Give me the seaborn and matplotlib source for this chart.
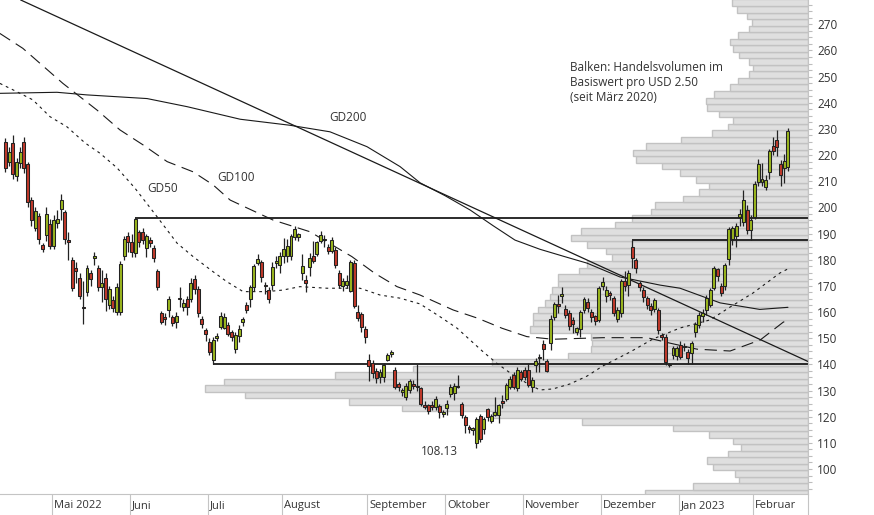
import matplotlib
matplotlib.use("Agg")
import matplotlib.pyplot as plt
from matplotlib.ticker import MultipleLocator
import numpy as np
import seaborn as sns

# Tageskerzen, Handelstag 0 = 12.04.2022 ... 211 = 14.02.2023
opens = [224.9, 217.2, 224.5, 212.0, 217.1, 224.9, 216.6, 202.8, 192.0, 196.7,
         185.6, 189.4, 193.5, 185.4, 193.9, 199.3, 198.1, 187.2, 179.9, 177.0,
         172.9, 161.8, 167.8, 174.8, 180.5, 176.7, 169.5, 172.9, 162.6, 164.6,
         160.0, 160.1, 181.5, 189.2, 186.7, 182.7, 190.5, 190.7, 184.6, 187.5,
         184.6, 175.7, 159.5, 158.0, 160.8, 158.0, 156.3, 165.2, 162.0, 165.0,
         164.9, 172.5, 168.7, 157.5, 153.1, 148.7, 141.7, 150.0, 154.4, 154.0,
         155.0, 152.2, 145.8, 150.9, 156.3, 162.7, 164.9, 169.5, 178.8, 179.0,
         170.0, 168.5, 170.2, 178.9, 178.1, 181.6, 181.3, 181.6, 188.7, 188.5,
         174.9, 172.4, 177.2, 181.3, 182.0, 187.0, 187.5, 184.9, 183.3, 183.9,
         174.9, 170.0, 170.2, 168.2, 178.8, 160.2, 159.2, 153.5, 141.7, 140.4,
         137.3, 135.3, 135.0, 141.7, 143.8, 137.9, 132.4, 129.6, 127.7, 130.2,
         132.0, 131.2, 130.8, 124.6, 124.3, 124.6, 123.8, 124.1, 121.0, 123.5,
         128.5, 128.9, 131.5, 124.8, 120.0, 115.5, 114.9, 109.8, 120.2, 115.1,
         122.8, 118.5, 120.6, 120.6, 125.5, 126.7, 131.5, 135.9, 130.8, 137.1,
         137.8, 138.0, 131.4, 139.7, 142.3, 147.7, 141.3, 148.0, 158.0, 162.5,
         166.3, 161.0, 159.5, 156.8, 152.5, 153.4, 160.8, 164.0, 160.2, 158.5,
         156.8, 169.8, 166.3, 166.8, 165.3, 157.4, 159.5, 171.7, 170.4, 185.0,
         179.7, 171.0, 168.5, 165.3, 162.4, 161.1, 160.8, 151.0, 150.6, 139.6,
         143.6, 143.2, 147.4, 146.5, 144.8, 144.5, 152.5, 155.0, 158.3, 160.8,
         162.7, 169.1, 176.4, 170.0, 170.1, 180.4, 188.0, 188.9, 196.4, 194.5,
         198.9, 191.5, 196.4, 209.8, 209.8, 207.9, 213.6, 223.5, 225.8, 216.6,
         215.2, 215.6]
highs = [226.5, 223.0, 227.5, 219.0, 223.0, 227.0, 217.5, 204.0, 200.0, 198.0,
         186.5, 200.0, 195.5, 197.0, 199.0, 205.0, 199.0, 190.5, 181.0, 179.0,
         175.0, 172.0, 178.0, 176.0, 183.0, 178.0, 176.0, 175.0, 170.0, 166.0,
         171.0, 179.5, 189.0, 190.5, 190.0, 195.8, 191.5, 192.0, 190.0, 188.5,
         185.5, 176.5, 160.5, 159.5, 166.0, 159.0, 160.0, 169.5, 165.0, 166.0,
         173.0, 174.0, 170.0, 158.5, 154.0, 150.0, 150.5, 152.0, 160.0, 159.8,
         156.0, 153.0, 152.5, 155.0, 158.0, 164.0, 170.4, 178.5, 182.0, 180.0,
         171.3, 169.5, 179.0, 181.3, 183.0, 188.3, 188.0, 190.0, 192.8, 190.3,
         182.3, 174.3, 182.5, 187.0, 187.0, 190.9, 189.5, 186.0, 188.5, 185.0,
         176.0, 173.0, 174.0, 180.0, 180.0, 162.5, 160.2, 154.5, 144.0, 141.5,
         138.5, 138.4, 140.5, 144.3, 145.3, 139.0, 133.2, 131.0, 132.8, 134.5,
         134.0, 140.0, 131.5, 126.0, 125.0, 126.0, 128.0, 125.0, 122.5, 126.3,
         132.5, 132.7, 135.8, 125.5, 120.5, 117.0, 116.2, 120.0, 121.0, 120.0,
         123.5, 121.0, 127.6, 125.0, 128.3, 133.0, 135.5, 137.0, 139.0, 138.0,
         139.0, 140.5, 135.0, 142.5, 144.0, 149.3, 142.0, 159.0, 164.0, 166.5,
         169.7, 162.7, 160.8, 158.0, 154.4, 160.8, 165.9, 165.5, 161.0, 159.0,
         170.0, 173.5, 170.0, 168.0, 166.0, 162.0, 172.5, 175.5, 176.0, 187.6,
         180.5, 172.0, 169.5, 166.0, 163.5, 165.5, 161.5, 152.0, 151.5, 140.6,
         147.0, 147.0, 149.0, 148.0, 146.0, 149.0, 156.3, 160.0, 161.0, 166.5,
         169.0, 177.5, 177.0, 171.0, 178.8, 192.5, 193.0, 194.0, 199.5, 206.5,
         201.0, 197.0, 210.0, 218.5, 217.0, 212.5, 222.5, 227.0, 229.7, 218.0,
         220.5, 230.2]
lows = [213.5, 216.0, 211.0, 210.0, 215.0, 213.0, 200.0, 193.0, 191.0, 186.0,
        183.0, 187.0, 184.0, 184.0, 192.0, 195.0, 186.0, 180.0, 168.0, 171.0,
        165.0, 155.5, 166.0, 170.0, 178.0, 168.0, 164.0, 160.5, 161.0, 160.0,
        159.0, 159.0, 180.0, 183.0, 181.0, 181.0, 185.0, 186.0, 181.0, 185.0,
        179.0, 168.5, 155.5, 155.0, 158.0, 154.5, 154.0, 162.0, 160.5, 159.0,
        164.0, 167.0, 158.0, 154.0, 149.0, 143.5, 140.1, 149.0, 153.7, 153.5,
        151.0, 149.0, 144.5, 148.5, 154.5, 159.5, 161.8, 168.0, 178.0, 171.5,
        166.8, 163.5, 168.5, 176.9, 175.0, 178.8, 179.0, 180.0, 187.7, 187.2,
        172.4, 167.8, 173.7, 178.6, 181.3, 186.4, 185.0, 182.0, 182.5, 177.0,
        169.0, 168.0, 169.0, 167.5, 161.5, 156.5, 152.5, 148.0, 133.5, 134.6,
        133.0, 133.0, 133.2, 141.2, 142.9, 130.5, 129.7, 128.0, 126.4, 129.0,
        130.5, 130.0, 124.0, 123.0, 121.0, 122.5, 122.5, 119.5, 120.0, 120.6,
        127.5, 126.3, 130.8, 119.5, 113.6, 113.6, 112.9, 108.13, 110.5, 113.5,
        118.5, 117.5, 120.3, 117.5, 123.5, 126.0, 130.5, 130.5, 130.0, 133.5,
        134.0, 131.5, 129.6, 137.0, 137.0, 141.6, 137.0, 145.5, 157.0, 159.6,
        163.5, 157.6, 153.1, 152.0, 151.2, 150.6, 159.5, 160.0, 156.0, 155.0,
        156.0, 168.5, 164.0, 164.5, 158.5, 156.0, 158.0, 168.0, 166.0, 177.0,
        175.0, 168.0, 164.0, 161.0, 159.0, 160.0, 151.5, 149.5, 139.8, 138.9,
        142.0, 141.5, 142.0, 145.0, 140.0, 140.0, 150.5, 154.0, 156.0, 159.0,
        162.0, 168.5, 172.0, 166.0, 168.5, 178.0, 185.5, 185.0, 192.7, 193.0,
        190.0, 187.5, 195.5, 208.0, 208.0, 206.5, 211.0, 220.0, 219.5, 208.0,
        209.5, 214.0]
closes = [214.9, 221.3, 212.6, 217.2, 221.3, 214.9, 201.9, 195.2, 198.8, 187.9,
          184.0, 197.4, 185.4, 195.2, 195.6, 202.8, 187.9, 186.9, 169.3, 175.5,
          166.3, 161.4, 176.7, 172.5, 181.4, 169.5, 171.0, 165.0, 168.7, 161.4,
          169.5, 178.2, 187.9, 186.7, 183.1, 195.6, 186.9, 187.5, 189.1, 186.3,
          180.5, 169.7, 156.3, 157.5, 164.9, 155.9, 158.5, 164.9, 163.6, 162.0,
          171.0, 168.7, 159.7, 155.3, 151.5, 144.9, 149.3, 151.0, 158.5, 158.2,
          151.6, 150.6, 151.2, 153.5, 157.2, 160.8, 169.5, 177.7, 180.3, 173.4,
          169.8, 165.0, 177.4, 179.6, 181.3, 184.1, 185.1, 189.0, 191.9, 189.7,
          177.7, 171.1, 180.6, 179.4, 186.8, 189.6, 188.0, 183.3, 187.5, 178.1,
          170.2, 171.7, 172.0, 179.0, 162.3, 157.6, 154.4, 150.6, 139.2, 136.6,
          134.7, 136.9, 139.9, 143.7, 144.6, 131.5, 131.5, 129.8, 131.9, 133.7,
          131.8, 131.5, 125.0, 123.8, 122.1, 123.8, 126.9, 121.9, 121.3, 124.8,
          131.4, 131.7, 131.2, 120.6, 116.8, 115.3, 115.0, 119.0, 111.3, 119.3,
          119.7, 120.2, 121.8, 124.4, 125.3, 132.1, 134.5, 131.4, 137.8, 134.5,
          135.2, 132.1, 134.0, 141.4, 142.6, 145.7, 137.6, 157.3, 163.1, 162.3,
          166.6, 158.9, 154.5, 155.5, 153.8, 160.2, 164.9, 161.5, 158.0, 156.4,
          169.1, 171.3, 168.5, 166.5, 159.8, 160.8, 171.7, 170.0, 174.9, 180.6,
          176.7, 169.5, 165.7, 162.8, 160.8, 164.7, 153.1, 150.6, 141.0, 139.8,
          146.1, 146.1, 142.9, 146.9, 142.3, 148.0, 155.4, 158.9, 159.5, 165.4,
          168.6, 176.7, 173.6, 167.4, 178.0, 191.8, 192.2, 192.7, 197.6, 203.0,
          191.5, 195.1, 208.8, 216.6, 210.7, 210.4, 221.5, 221.7, 223.2, 212.4,
          217.7, 229.3]

# Monatsanfaenge (Handelstag-Index)
month_labels = ["Mai 2022", "Juni", "Juli", "August", "September", "Oktober",
                "November", "Dezember", "Jan 2023", "Februar"]
month_start = [13, 34, 55, 75, 98, 119, 140, 161, 182, 202]

# gleitende Durchschnitte
gd50_x = [-1.5, 3.1, 7.4, 12.0, 16.6, 21.5, 25.5, 30.1, 34.9, 40.9, 46.3, 50.6,
          56.0, 59.7, 64.1, 70.5, 74.8, 79.4, 86.7, 95.6, 101.0, 106.4, 111.8,
          117.2, 121.8, 125.3, 128.8, 132.5, 136.9, 140.6, 144.1, 147.6, 152.2,
          156.8, 161.1, 168.4, 174.6, 181.9, 190.0, 195.4, 201.6, 208.8, 211.0]
gd50_y = [247.4, 244.2, 241.1, 234.7, 230.8, 224.6, 220.7, 215.1, 207.4, 196.4,
          186.3, 181.2, 175.4, 171.6, 167.8, 167.8, 168.4, 169.7, 169.1, 169.1,
          166.5, 165.3, 163.1, 158.2, 153.8, 149.3, 144.8, 140.4, 135.9, 132.8,
          130.2, 130.6, 132.5, 135.5, 139.4, 144.7, 149.7, 153.9, 157.0, 161.9,
          167.3, 174.9, 176.5]
gd100_x = [-1.5, 4.7, 9.3, 15.5, 20.1, 24.7, 30.9, 37.1, 43.6, 50.6, 56.0, 60.6,
           72.1, 82.1, 93.4, 99.6, 105.6, 111.8, 120.7, 127.4, 133.9, 140.6,
           147.6, 161.1, 173.0, 179.2, 186.5, 195.4, 203.5, 209.7, 211.0]
gd100_y = [266.5, 260.8, 255.1, 247.4, 242.3, 237.2, 229.6, 223.9, 217.5, 213.6,
           208.6, 202.8, 195.2, 190.7, 181.2, 174.8, 169.7, 166.5, 160.8, 157.6,
           153.8, 150.6, 149.6, 150.2, 150.2, 148.1, 145.8, 145.1, 149.3, 156.1,
           157.0]
gd200_x = [-1.5, 13.9, 22.0, 38.2, 49.0, 63.3, 76.7, 87.5, 97.5, 106.4, 111.8,
           118.5, 125.3, 131.5, 137.4, 144.1, 150.5, 156.8, 165.7, 176.5, 181.9,
           192.7, 203.4, 211.0]
gd200_y = [243.6, 244.0, 243.0, 241.6, 238.5, 233.7, 231.4, 228.9, 223.2, 215.6,
           209.4, 204.5, 199.0, 193.0, 187.5, 184.0, 181.3, 178.7, 173.4, 170.3,
           169.1, 163.5, 161.0, 161.8]

# Trendlinie und horizontale Marken
trend_x = [4.1, 216.4]
trend_y = [279.3, 141.1]
levels = [195.8, 187.6, 140.1]
level_start = [35, 169, 56]

# Volumenprofil: Balken je USD 2.50, unterste Klasse ab 89.5
profile_bottom = 89.5
profile_step = 2.5
profile_vol = [163, 115, 69, 73, 95, 101, 80, 67, 75, 99,
               135, 226, 316, 406, 459, 563, 603, 584, 473, 395,
               316, 240, 217, 216, 217, 278, 275, 275, 270, 263,
               258, 256, 250, 250, 229, 221, 196, 202, 221, 237,
               227, 193, 176, 157, 153, 125, 109, 99, 112, 128,
               146, 172, 175, 162, 127, 96, 80, 75, 89, 101,
               102, 94, 78, 70, 59, 55, 59, 69, 75, 78,
               70, 59, 56, 61, 71, 76]

x_left, x_right = -1.46, 216.4
y_low, y_high = 90.44, 279.28

sns.set_theme(style="white")
plt.rcParams["font.family"] = ["Open Sans", "DejaVu Sans"]

fig = plt.figure(figsize=(8.74, 5.15), dpi=100)
ax = fig.add_axes([0, 21 / 515, 808 / 874, 494 / 515])
ax_vol = ax.twiny()

# Volumenprofil hinter den Kursen
bins = profile_bottom + profile_step * np.arange(len(profile_vol))
ax_vol.barh(bins, profile_vol, height=profile_step, align="edge", left=0,
            color="#dfdfdf", edgecolor="#c2c2c2", linewidth=1.0)
ax_vol.set_xlim(808, 0)
ax_vol.xaxis.set_visible(False)
for s in ax_vol.spines.values():
    s.set_visible(False)
ax_vol.set_zorder(1)
ax.set_zorder(2)
ax.patch.set_visible(False)

# Linien
ax.plot(trend_x, trend_y, color="#1a1a1a", lw=0.9, zorder=2)
for lv, st in zip(levels, level_start):
    ax.hlines(lv, st, x_right, color="#1a1a1a", lw=1.3, zorder=2)
sns.lineplot(x=gd200_x, y=gd200_y, ax=ax, color="#1a1a1a", lw=0.8,
             sort=False, estimator=None, zorder=2)
sns.lineplot(x=gd100_x, y=gd100_y, ax=ax, color="#1a1a1a", lw=0.8,
             linestyle=(0, (11, 6)), sort=False, estimator=None, zorder=2)
sns.lineplot(x=gd50_x, y=gd50_y, ax=ax, color="#1a1a1a", lw=0.8,
             linestyle=(0, (2.5, 3.5)), sort=False, estimator=None, zorder=2)

# Kerzen
idx = np.arange(len(closes))
o = np.array(opens)
c = np.array(closes)
ax.vlines(idx, lows, highs, color="#222222", lw=0.9, zorder=3)
body_low = np.minimum(o, c)
body_h = np.maximum(np.abs(c - o), 0.6)
colors = np.where(c >= o, "#9ab51e", "#c0392b")
ax.bar(idx, body_h, bottom=body_low, width=0.8, color=colors,
       edgecolor="#222222", linewidth=0.75, zorder=4)

ax.set_xlim(x_left, x_right)
ax.set_ylim(y_low, y_high)

# Achsen
ax.yaxis.tick_right()
ax.yaxis.set_major_locator(MultipleLocator(10))
ax.yaxis.set_minor_locator(MultipleLocator(2.5))
ax.tick_params(axis="y", which="both", direction="out", length=3, width=0.8,
               color="#bdbdbd", labelcolor="#333333", labelsize=8.5, pad=3.5,
               left=False, right=True)
ax.set_xticks([m - 0.5 for m in month_start])
ax.set_xticklabels([])
ax.tick_params(axis="x", direction="out", length=15, width=0.8, color="#c4c4c4")
for name in ["left", "top"]:
    ax.spines[name].set_visible(False)
for name in ["right", "bottom"]:
    ax.spines[name].set_color("#c4c4c4")
    ax.spines[name].set_linewidth(0.8)
fig.add_artist(plt.Line2D([808 / 874, 808 / 874], [0, 21 / 515],
                          color="#c4c4c4", lw=0.8))

for m, lab in zip(month_start, month_labels):
    ax.annotate(lab, xy=(m - 0.5, 0), xycoords=("data", "axes fraction"),
                xytext=(1.5, -8.5), textcoords="offset points",
                ha="left", va="center", fontsize=8, color="#333333")

# Beschriftungen
ax.text(42.5, 207.4, "GD50", ha="center", va="center", fontsize=8.5, color="#333333")
ax.text(62.2, 211.6, "GD100", ha="center", va="center", fontsize=8.5, color="#333333")
ax.text(92.4, 234.2, "GD200", ha="center", va="center", fontsize=8.5, color="#333333")
ax.text(116.9, 106.5, f"{min(lows):.2f}", ha="center", va="center",
        fontsize=8.5, color="#333333")
ax.text(152.2, 256.0, "Balken: Handelsvolumen im\nBasiswert pro USD 2.50\n(seit März 2020)",
        ha="left", va="top", fontsize=8.5, color="#333333", linespacing=1.2)

fig.savefig("out.png", dpi=100)
